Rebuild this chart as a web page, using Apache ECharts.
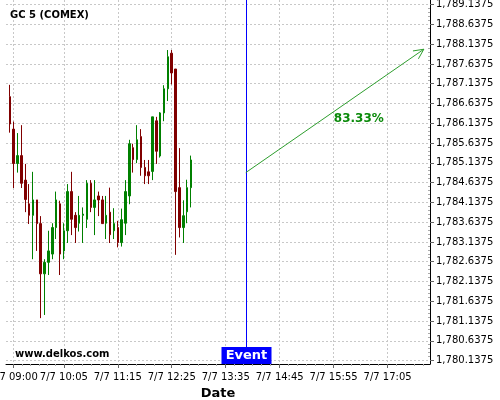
<!DOCTYPE html>
<html><head><meta charset="utf-8">
<script src="https://cdn.jsdelivr.net/npm/echarts@6/dist/echarts.min.js"></script>
<style>html,body{margin:0;padding:0;background:#fff}#c{width:500px;height:400px}</style>
</head><body><div id="c"></div>
<script>
// ---- data ----
const firstCandleMinute = 535;   // 08:55 (minutes after midnight)
const candleStepMinutes = 5;
const opens  = [1786.81,1785.99,1785.12,1785.32,1784.70,1784.10,1783.81,1784.20,1783.60,1782.33,1782.62,1782.83,1783.50,1784.10,1782.91,1783.42,1784.41,1783.81,1783.61,1783.81,1783.71,1784.62,1784.01,1784.30,
                1784.20,1783.61,1783.89,1783.42,1783.50,1783.12,1783.61,1784.30,1785.52,1785.22,1785.80,1785.02,1784.91,1784.92,1786.20,1785.31,1786.40,1787.01,1787.91,1787.51,1784.51,1783.50,1783.90,1784.51];
const closes = [1786.12,1785.12,1785.32,1784.62,1784.21,1783.81,1784.20,1783.60,1782.33,1782.62,1782.91,1783.50,1784.20,1782.83,1783.42,1784.41,1783.71,1783.50,1783.81,1783.84,1784.62,1784.01,1784.20,1784.20,
                1783.60,1783.81,1783.32,1783.60,1783.12,1783.70,1784.41,1785.62,1785.22,1785.72,1785.02,1784.81,1784.81,1786.30,1785.43,1786.40,1787.01,1787.82,1787.41,1784.41,1783.50,1783.80,1784.51,1785.21];
const lows   = [1785.90,1784.50,1784.89,1784.50,1783.89,1783.59,1782.70,1782.91,1781.21,1781.29,1782.30,1782.70,1783.21,1782.30,1782.70,1783.11,1783.31,1783.11,1783.40,1783.11,1783.49,1783.89,1783.31,1783.79,
                1783.59,1783.21,1783.11,1783.21,1783.00,1783.02,1783.31,1784.09,1784.89,1785.13,1784.81,1784.60,1784.60,1784.70,1785.11,1785.27,1786.19,1786.70,1787.12,1782.81,1783.25,1783.11,1783.61,1784.01];
const highs  = [1787.11,1786.18,1785.89,1786.09,1785.11,1784.60,1784.91,1784.20,1783.79,1782.70,1783.42,1783.61,1784.41,1784.18,1783.61,1784.60,1784.91,1783.89,1784.30,1784.01,1784.70,1784.70,1784.70,1784.41,
                1784.30,1784.30,1784.51,1783.99,1783.67,1783.98,1784.70,1785.72,1785.62,1786.09,1785.99,1785.21,1785.21,1786.30,1786.30,1786.42,1787.10,1787.99,1787.99,1787.51,1785.51,1784.19,1784.71,1785.32];
const yTickValues = [1780.1375,1780.6375,1781.1375,1781.6375,1782.1375,1782.6375,1783.1375,1783.6375,1784.1375,1784.6375,1785.1375,1785.6375,1786.1375,1786.6375,1787.1375,1787.6375,1788.1375,1788.6375,1789.1375];
const xTickMinutes = [540,605,675,745,815,885,955,1025];
const xTickLabels  = ['7/7 09:00','7/7 10:05','7/7 11:15','7/7 12:25','7/7 13:35','7/7 14:45','7/7 15:55','7/7 17:05'];
const eventMinute = 841;
const eventText = 'Event';
const arrowFrom = [841, 1784.89];
const arrowTo   = [1072, 1788.01];
const pctText = '83.33%';
const titleText = 'GC 5 (COMEX)';
const siteText = 'www.delkos.com';
const xName = 'Date';

// ---- build ----
const FONT = 'DejaVu Sans';
const candleData = opens.map((o, i) => [firstCandleMinute + i * candleStepMinutes, o, closes[i], lows[i], highs[i]]);
const labelByMinute = {};
xTickMinutes.forEach((m, i) => labelByMinute[m] = xTickLabels[i]);
const yMinor = [];
for (let i = 0; i < yTickValues.length - 1; i++) for (let j = 1; j < 5; j++) yMinor.push(yTickValues[i] + (yTickValues[i+1]-yTickValues[i]) * j / 5);
const xMinor = [];
for (let i = 0; i < xTickMinutes.length - 1; i++) for (let j = 1; j < 6; j++) xMinor.push(xTickMinutes[i] + (xTickMinutes[i+1]-xTickMinutes[i]) * j / 6);
const xMin = 530, xMax = 1080, yMin = 1780.05, yMax = 1789.255;
for (let v = xTickMinutes[xTickMinutes.length-1] + 70/6; v < xMax; v += 70/6) xMinor.push(v);
xMinor.push(xTickMinutes[0] - 65/6);

function fmtPrice(v) {
  const s = v.toFixed(4); const [a, b] = s.split('.');
  return a.replace(/\B(?=(\d{3})+(?!\d))/g, ',') + '.' + b;
}

const chart = echarts.init(document.getElementById('c'), null, {renderer: 'canvas'});
const grid = {left: 6, right: 70, top: 0, bottom: 36, containLabel: false, outerBoundsMode: 'none'};
const splitLine = {show: true, lineStyle: {color: '#c8c8c8', type: [2, 2], width: 1}};
chart.setOption({
  animation: false,
  backgroundColor: '#fff',
  textStyle: {fontFamily: FONT},
  title: {text: titleText, left: 10, top: 10, padding: 0, textStyle: {fontFamily: FONT, fontSize: 10, fontWeight: 'bold', color: '#000'}},
  grid: grid,
  xAxis: [{
    type: 'value', min: xMin, max: xMax, position: 'bottom',
    name: xName, nameLocation: 'middle', nameGap: 17,
    nameTextStyle: {fontFamily: FONT, fontSize: 13, fontWeight: 'bold', color: '#000'},
    axisLine: {show: true, onZero: false, lineStyle: {color: '#000', width: 1}},
    axisTick: {show: true, customValues: xTickMinutes, length: 4, lineStyle: {color: '#666'}},
    axisLabel: {show: true, customValues: xTickMinutes, margin: 8, fontSize: 10, color: '#000', fontFamily: FONT,
      hideOverlap: false, showMinLabel: true, showMaxLabel: true,
      formatter: v => labelByMinute[Math.round(v)] || ''},
    splitLine: splitLine
  }, {
    type: 'value', min: xMin, max: xMax, position: 'bottom', gridIndex: 0,
    axisLine: {show: false}, axisLabel: {show: false}, splitLine: {show: false},
    axisTick: {show: true, customValues: xMinor, length: 2, lineStyle: {color: '#aaa'}}
  }],
  yAxis: [{
    type: 'value', min: yMin, max: yMax, position: 'right', scale: true,
    axisLine: {show: true, onZero: false, lineStyle: {color: '#000', width: 1}},
    axisTick: {show: true, customValues: yTickValues, length: 4, lineStyle: {color: '#666'}},
    axisLabel: {show: true, customValues: yTickValues, margin: 6, fontSize: 10, color: '#000', fontFamily: FONT,
      hideOverlap: false, formatter: fmtPrice},
    splitLine: splitLine
  }, {
    type: 'value', min: yMin, max: yMax, position: 'right', scale: true,
    axisLine: {show: false}, axisLabel: {show: false}, splitLine: {show: false},
    axisTick: {show: true, inside: true, customValues: yMinor, length: 2, lineStyle: {color: '#aaa'}}
  }],
  series: [{
    type: 'candlestick', xAxisIndex: 0, yAxisIndex: 0,
    data: candleData, encode: {x: 0, y: [1, 2, 3, 4]},
    barWidth: 2,
    itemStyle: {color: '#008000', color0: '#800000', borderColor: '#008000', borderColor0: '#800000', borderWidth: 1}
  }]
});

// overlays positioned through the chart's own scales
const toPx = p => chart.convertToPixel({xAxisIndex: 0, yAxisIndex: 0}, p);
const evX = Math.round(chart.convertToPixel({xAxisIndex: 0}, eventMinute)) + 0.5;
const gridBottom = chart.convertToPixel({yAxisIndex: 0}, yMin);
const gridTop = chart.convertToPixel({yAxisIndex: 0}, yMax);
const a = toPx(arrowFrom), b = toPx(arrowTo);
const ang = Math.atan2(a[1] - b[1], a[0] - b[0]);
const headLen = 11, spread = 0.45;
const h1 = [b[0] + headLen * Math.cos(ang + spread), b[1] + headLen * Math.sin(ang + spread)];
const h2 = [b[0] + headLen * Math.cos(ang - spread), b[1] + headLen * Math.sin(ang - spread)];
const mid = toPx([(arrowFrom[0] + arrowTo[0]) / 2, (arrowFrom[1] + arrowTo[1]) / 2]);
const green = '#2e9e2e';
chart.setOption({
  graphic: [
    {type: 'text', left: 15, top: 349, style: {text: siteText, font: 'bold 10px "DejaVu Sans"', fill: '#000'}},
    {type: 'line', shape: {x1: evX, y1: gridTop, x2: evX, y2: gridBottom}, style: {stroke: '#0000ff', lineWidth: 1}},
    {type: 'line', shape: {x1: a[0], y1: a[1], x2: b[0], y2: b[1]}, style: {stroke: green, lineWidth: 1}},
    {type: 'polyline', shape: {points: [h1, b, h2]}, style: {stroke: green, lineWidth: 1, fill: null}},
    {type: 'text', x: mid[0] - 1, y: mid[1] + 2, style: {text: pctText, font: 'bold 12px "DejaVu Sans"', fill: '#0a8a0a', textVerticalAlign: 'top'}},
    {type: 'rect', shape: {x: evX - 25, y: gridBottom - 17, width: 50, height: 17}, style: {fill: '#0000ff'}},
    {type: 'text', x: evX, y: gridBottom - 8.5, style: {text: eventText, font: 'bold 13px "DejaVu Sans"', fill: '#fff', textAlign: 'center', textVerticalAlign: 'middle'}}
  ]
});
</script></body></html>
